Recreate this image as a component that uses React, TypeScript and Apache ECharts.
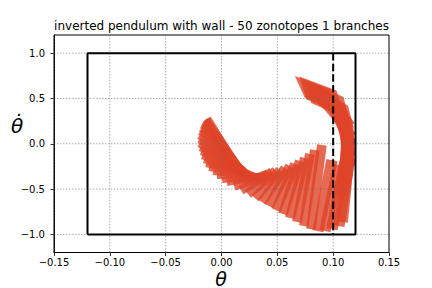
import React, { useEffect, useRef } from "react";
import * as echarts from "echarts";

const TITLE = "inverted pendulum with wall - 50 zonotopes 1 branches";

// zonotope centers (theta, theta-dot)
const centerTheta = [
  0.0859, 0.0895, 0.0948, 0.0998, 0.1025, 0.1065, 0.1096, 0.1114, 0.1123, 0.1123,
  0.1118, 0.1109, 0.1113, 0.11, 0.1047, 0.0989, 0.0926, 0.085, 0.0787, 0.0734,
  0.068, 0.0626, 0.0573, 0.0519, 0.0465, 0.0412, 0.0362, 0.0313, 0.0264, 0.0215,
  0.0179, 0.0143, 0.0116, 0.0089, 0.0067, 0.0049, 0.0036, 0.0027, 0.0018, 0.0009,
  0.0004, 0.0, 0.0, 0.0, 0.0, 0.0, 0.0004, 0.0004, 0.0013, 0.0013,
];
const centerThetaDot = [
  0.554, 0.538, 0.482, 0.427, 0.35, 0.273, 0.195, 0.107, 0.019, -0.07,
  -0.158, -0.246, -0.478, -0.533, -0.572, -0.599, -0.572, -0.478, -0.489, -0.489,
  -0.489, -0.483, -0.478, -0.467, -0.456, -0.445, -0.428, -0.412, -0.401, -0.395,
  -0.379, -0.357, -0.334, -0.307, -0.285, -0.257, -0.235, -0.208, -0.185, -0.158,
  -0.13, -0.103, -0.081, -0.059, -0.036, -0.025, -0.009, 0.002, 0.013, 0.019,
];
// first generator
const gen1Theta = [
  0.0157, 0.0166, 0.017, 0.0161, 0.0116, 0.0081, 0.0054, 0.0036, 0.0018, -0.0004,
  -0.0018, -0.0036, -0.0031, -0.0049, -0.0058, -0.0063, -0.0063, -0.0049, -0.0049, -0.0058,
  -0.0067, -0.0076, -0.0085, -0.0094, -0.0103, -0.0112, -0.0125, -0.0139, -0.0152, -0.0166,
  -0.0174, -0.0183, -0.0192, -0.0201, -0.0206, -0.0206, -0.021, -0.021, -0.021, -0.021,
  -0.0206, -0.0201, -0.0192, -0.0183, -0.0174, -0.0166, -0.0161, -0.0152, -0.0143, -0.0134,
];
const gen1ThetaDot = [
  -0.072, -0.077, -0.094, -0.132, -0.166, -0.199, -0.221, -0.243, -0.265, -0.276,
  -0.298, -0.32, -0.386, -0.375, -0.37, -0.364, -0.392, -0.464, -0.419, -0.375,
  -0.331, -0.293, -0.254, -0.221, -0.188, -0.155, -0.127, -0.099, -0.066, -0.039,
  -0.022, 0.0, 0.022, 0.039, 0.061, 0.077, 0.099, 0.116, 0.138, 0.155,
  0.171, 0.188, 0.21, 0.221, 0.232, 0.243, 0.248, 0.259, 0.259, 0.265,
];
// second generator
const gen2Theta = [
  -0.0045, -0.0031, -0.0025, -0.0025, 0.0055, 0.0055, 0.0055, 0.0055, 0.0055, 0.0055,
  0.0055, 0.0055, 0.005, 0.005, 0.005, 0.005, 0.005, 0.0043, 0.0043, 0.0043,
  0.0043, 0.0042, 0.0041, 0.0038, 0.0035, 0.0031, 0.0028, 0.0022, 0.0015, 0.0005,
  0.0003, 0.0, -0.0003, -0.0005, -0.0006, -0.0008, -0.0009, -0.0011, -0.0012, -0.0014,
  -0.0015, -0.0017, -0.0018, -0.002, -0.002, -0.0021, -0.0021, -0.0021, -0.0023, -0.0023,
];
const gen2ThetaDot = [
  0.121, 0.127, 0.127, 0.121, 0.045, 0.03, 0.023, 0.015, 0.0, -0.008,
  -0.015, -0.015, -0.008, -0.01, -0.013, -0.013, -0.013, -0.008, -0.008, -0.011,
  -0.014, -0.017, -0.02, -0.025, -0.029, -0.034, -0.041, -0.045, -0.049, -0.033,
  -0.033, -0.033, -0.033, -0.033, -0.033, -0.032, -0.032, -0.03, -0.03, -0.029,
  -0.027, -0.027, -0.026, -0.024, -0.023, -0.021, -0.021, -0.02, -0.018, -0.018,
];

const xTicks = [-0.15, -0.1, -0.05, 0.0, 0.05, 0.1, 0.15];
const yTicks = [-1.0, -0.5, 0.0, 0.5, 1.0];
const xRange = [-0.15, 0.15];
const yRange = [-1.2, 1.2];
const boxTheta = [-0.12, 0.12];
const boxThetaDot = [-1.0, 1.0];
const wallTheta = 0.1;

const FONT = "DejaVu Sans";

function fmt(v: number, d: number) {
  const s = Math.abs(v).toFixed(d);
  return (v < -1e-9 ? "\u2212" : "") + s;
}

export default function App() {
  const ref = useRef<HTMLDivElement>(null);
  useEffect(() => {
    if (!ref.current) return;
    const chart = echarts.init(ref.current, undefined, { renderer: "svg" });
    const zonoData = centerTheta.map((c, i) => [
      c,
      centerThetaDot[i],
      gen1Theta[i],
      gen1ThetaDot[i],
      gen2Theta[i],
      gen2ThetaDot[i],
    ]);
    const gridLineStyle = {
      color: "rgba(110,110,110,0.55)",
      width: 1,
      type: [1.5, 1.5] as any,
    };
    const gridSeries: any[] = [];
    xTicks.forEach((x) => {
      gridSeries.push({
        type: "line",
        data: [
          [x, yRange[0]],
          [x, yRange[1]],
        ],
        symbol: "none",
        silent: true,
        z: 3,
        lineStyle: gridLineStyle,
      });
    });
    yTicks.forEach((y) => {
      gridSeries.push({
        type: "line",
        data: [
          [xRange[0], y],
          [xRange[1], y],
        ],
        symbol: "none",
        silent: true,
        z: 3,
        lineStyle: gridLineStyle,
      });
    });
    const option: any = {
      animation: false,
      grid: {
        left: 54,
        right: 43,
        top: 35,
        bottom: 35.5,
        show: true,
        borderColor: "#000",
        borderWidth: 1,
        backgroundColor: "transparent",
      },
      xAxis: {
        type: "value",
        min: xRange[0],
        max: xRange[1],
        interval: 0.05,
        axisLine: { show: true, onZero: false, lineStyle: { color: "#000", width: 1 } },
        axisTick: { show: true, length: 3.5, lineStyle: { color: "#000", width: 0.8 } },
        axisLabel: {
          color: "#000",
          fontFamily: FONT,
          fontSize: 10,
          margin: 5,
          formatter: (v: number) => fmt(v, 2),
        },
        splitLine: { show: false },
      },
      yAxis: {
        type: "value",
        min: yRange[0],
        max: yRange[1],
        axisLine: { show: true, onZero: false, lineStyle: { color: "#000", width: 1 } },
        axisTick: {
          show: true,
          length: 3.5,
          customValues: yTicks,
          lineStyle: { color: "#000", width: 0.8 },
        },
        axisLabel: {
          color: "#000",
          fontFamily: FONT,
          fontSize: 10,
          margin: 9,
          customValues: yTicks,
          formatter: (v: number) => fmt(v, 1),
        },
        splitLine: { show: false },
      },
      graphic: [
        {
          type: "text",
          x: 221.5,
          y: 25.5,
          style: {
            text: TITLE,
            font: `12px '${FONT}'`,
            fill: "#000",
            textAlign: "center",
            textVerticalAlign: "middle",
          },
        },
        {
          type: "text",
          x: 221,
          y: 278.5,
          style: {
            text: "\u03b8",
            font: `italic 19px '${FONT}'`,
            fill: "#000",
            textAlign: "center",
            textVerticalAlign: "middle",
          },
        },
        {
          type: "text",
          x: 17,
          y: 126,
          style: {
            text: "\u03b8\u0307",
            font: `italic 20px '${FONT}'`,
            fill: "#000",
            textAlign: "center",
            textVerticalAlign: "middle",
          },
        },
      ],
      series: [
        {
          type: "custom",
          z: 2,
          clip: true,
          encode: { x: 0, y: 1 },
          data: zonoData,
          renderItem: (params: any, api: any) => {
            const cx = api.value(0);
            const cy = api.value(1);
            const ax = api.value(2);
            const ay = api.value(3);
            const bx = api.value(4);
            const by = api.value(5);
            const pts = [
              [cx + ax + bx, cy + ay + by],
              [cx + ax - bx, cy + ay - by],
              [cx - ax - bx, cy - ay - by],
              [cx - ax + bx, cy - ay + by],
            ].map((p) => api.coord(p));
            return {
              type: "polygon",
              shape: { points: pts },
              style: { fill: "rgba(222,68,40,0.8)", stroke: "none" },
            };
          },
        },
        ...gridSeries,
        {
          type: "line",
          data: [
            [boxTheta[0], boxThetaDot[0]],
            [boxTheta[1], boxThetaDot[0]],
            [boxTheta[1], boxThetaDot[1]],
            [boxTheta[0], boxThetaDot[1]],
            [boxTheta[0], boxThetaDot[0]],
          ],
          symbol: "none",
          silent: true,
          z: 4,
          lineStyle: { color: "#000", width: 2 },
        },
        {
          type: "line",
          data: [
            [wallTheta, boxThetaDot[1]],
            [wallTheta, boxThetaDot[0]],
          ],
          symbol: "none",
          silent: true,
          z: 5,
          lineStyle: { color: "#000", width: 2, type: [7.4, 3.2] },
        },
      ],
    };
    chart.setOption(option);
    return () => chart.dispose();
  }, []);
  return (
    <div
      ref={ref}
      style={{ position: "absolute", left: 0, top: 0, width: 432, height: 288 }}
    />
  );
}
